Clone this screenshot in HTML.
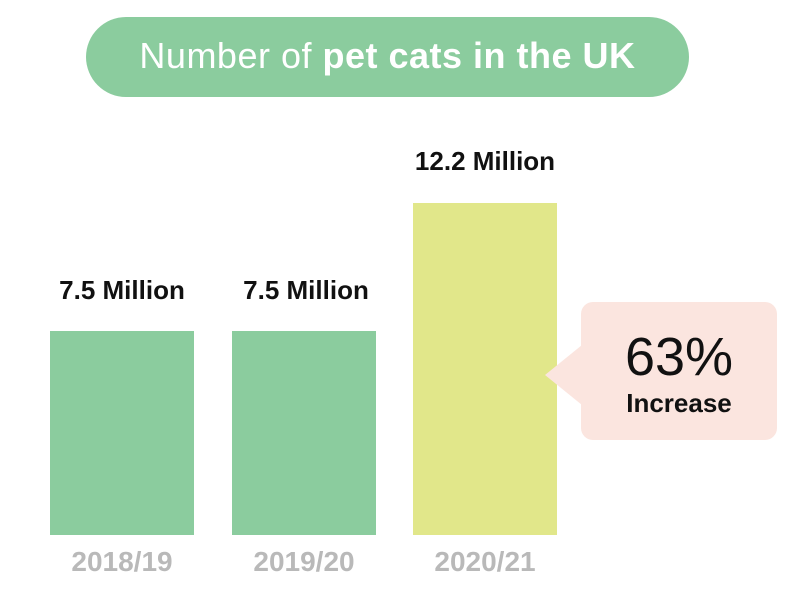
<!DOCTYPE html>
<html><head><style>
body{margin:0;width:800px;height:593px;background:#fff;position:relative;overflow:hidden;font-family:"Liberation Sans",sans-serif}
.pill{position:absolute;left:86px;top:17px;width:603px;height:80px;border-radius:40px;background:#8bcc9e;color:#fff;font-size:36px;line-height:78px;text-align:center;letter-spacing:0.5px}
.bar{position:absolute;width:144px}
.g{background:#8bcc9e}.y{background:#e1e78a}
.v{position:absolute;width:240px;text-align:center;font-weight:bold;font-size:26px;color:#111}
.l{position:absolute;width:200px;text-align:center;font-weight:bold;font-size:28px;color:#b9b9b9;top:546px}
.box{position:absolute;left:581px;top:302px;width:196px;height:138px;border-radius:12px;background:#fbe5df}
.tri{position:absolute;left:545px;top:345px;width:0;height:0;border-top:30px solid transparent;border-bottom:30px solid transparent;border-right:37px solid #fbe5df}
</style></head><body>
<div class="pill">Number of <b>pet cats in the UK</b></div>
<div class="bar g" style="left:50px;top:331px;height:204px"></div>
<div class="bar g" style="left:232px;top:331px;height:204px"></div>
<div class="bar y" style="left:413px;top:203px;height:332px"></div>
<div class="v" style="left:2px;top:275px">7.5 Million</div>
<div class="v" style="left:186px;top:275px">7.5 Million</div>
<div class="v" style="left:365px;top:146px">12.2 Million</div>
<div class="l" style="left:22px">2018/19</div>
<div class="l" style="left:204px">2019/20</div>
<div class="l" style="left:385px">2020/21</div>
<div class="tri"></div>
<div class="box">
<div style="position:absolute;top:26px;width:100%;text-align:center;font-size:54px;font-weight:300;color:#111;line-height:58px">63%</div>
<div style="position:absolute;top:86px;width:100%;text-align:center;font-size:26px;font-weight:bold;color:#111">Increase</div>
</div>
</body></html>
